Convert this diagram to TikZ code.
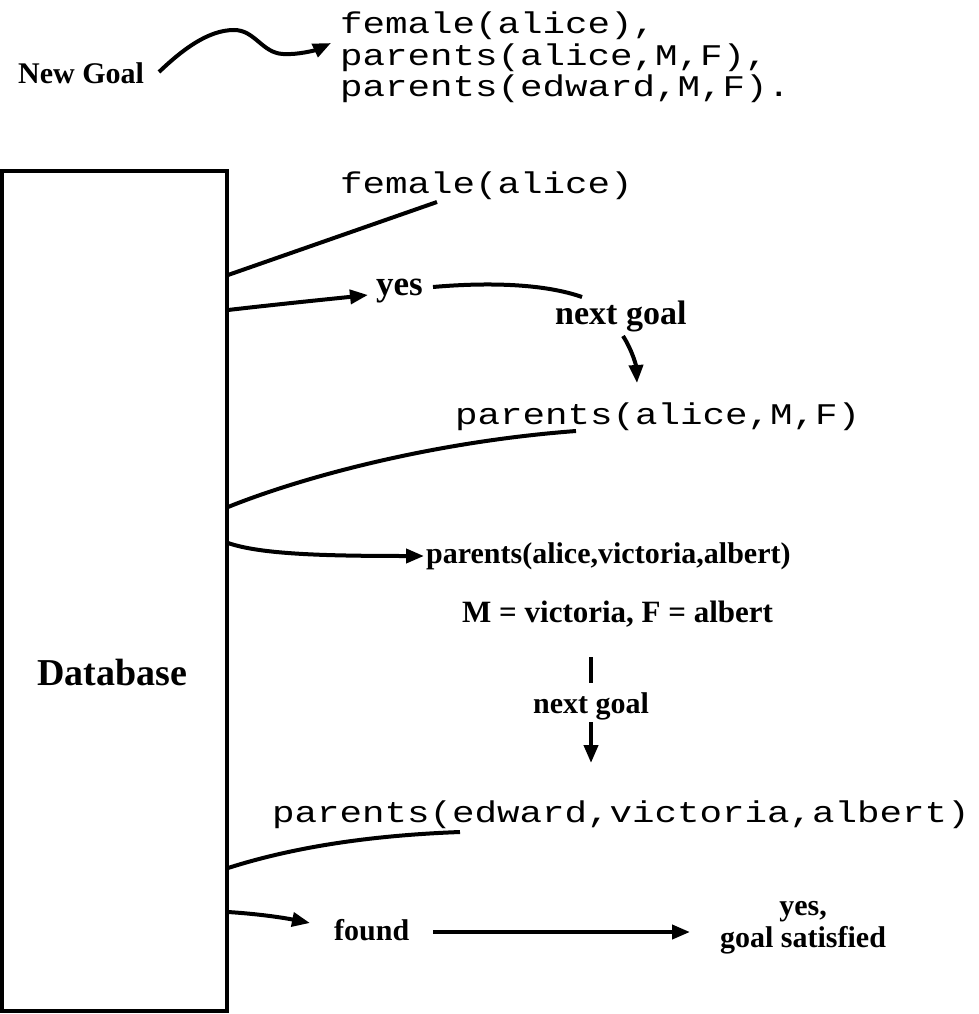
\documentclass[tikz,border=0pt]{standalone}
\usepackage{fontspec}
\setmainfont{Liberation Serif}
\newfontfamily\codefont{Liberation Mono}
\newcommand{\codewide}[1]{\scalebox{1.25}[1]{#1}}
\usetikzlibrary{arrows.meta}
\begin{document}
\begin{tikzpicture}[x=1pt,y=-1pt,
  lbl/.style={font=\fontsize{30}{30}\selectfont\bfseries, inner sep=0pt, anchor=base west},
  code/.style={font=\fontsize{30}{30}\selectfont\codefont, inner sep=0pt, anchor=base west, text height=20pt, text depth=6pt},
  conn/.style={line width=4pt, line cap=butt},
  arr/.style={conn, -{Triangle[length=18pt,width=14pt]}}]
\useasboundingbox (0,0) rectangle (979,1014);
% database box
\node[draw, line width=4pt, inner sep=0pt, outer sep=0pt, minimum width=225pt, minimum height=840pt, anchor=north west] (db) at (2,171) {};
\node[font=\fontsize{38}{38}\selectfont\bfseries, inner sep=0pt, anchor=base] (dbl) at (112,685) {Database};
% new goal
\node[lbl] (ng) at (18,84) {New Goal};
\node[code] (g1) at (340,34) {\codewide{female(alice),}};
\node[code] (g2) at (340,65.5) {\codewide{parents(alice,M,F),}};
\node[code] (g3) at (340,97) {\codewide{parents(edward,M,F).}};
\coordinate (ngs) at (159,72);
\coordinate (ngt) at (331,43);
\draw[arr] (ngs) .. controls (182,50) and (208,30) .. (234,30) .. controls (255,30) and (262,53) .. (283,54) .. controls (298,55) and (316,50) .. (ngt);
% female(alice)
\node[code] (f) at (340,193) {\codewide{female(alice)}};
\coordinate (d1) at (228,275);
\coordinate (f1) at (437,202);
\draw[conn] (d1) -- (f1);
\coordinate (d2) at (228,310);
\node[lbl, font=\fontsize{35}{35}\selectfont\bfseries] (yes) at (376,295) {yes};
\coordinate (yt) at (368,295);
\draw[arr] (d2) .. controls (280,304) and (330,299) .. (yt);
\coordinate (y1) at (433,287);
\coordinate (y2) at (582,297);
\draw[conn] (y1) .. controls (490,282) and (545,284) .. (y2);
\node[lbl, font=\fontsize{34}{34}\selectfont\bfseries] (ng1) at (555,324) {next goal};
\coordinate (n1s) at (623,336);
\coordinate (n1t) at (637,383);
\draw[arr] (n1s) .. controls (632,350) and (636,365) .. (n1t);
% parents(alice,M,F)
\node[code] (p1) at (455,424) {\codewide{parents(alice,M,F)}};
\coordinate (d3) at (228,507);
\coordinate (p1e) at (576,431);
\draw[conn] (d3) .. controls (300,478) and (430,442) .. (p1e);
\coordinate (d4) at (228,543);
\coordinate (p2t) at (424,556);
\draw[arr] (d4) .. controls (260,554) and (320,556) .. (p2t);
\node[lbl] (p2) at (426,563) {parents(alice,victoria,albert)};
\node[lbl, font=\fontsize{31}{31}\selectfont\bfseries] (mf) at (462,622) {M = victoria, F = albert};
\coordinate (tk1) at (591,657);
\coordinate (tk2) at (591,683);
\draw[conn] (tk1) -- (tk2);
\node[lbl] (ng2) at (533,713) {next goal};
\coordinate (n2s) at (591,722);
\coordinate (n2t) at (591,763);
\draw[arr] (n2s) -- (n2t);
% parents(edward,...)
\node[code] (p3) at (272,822) {\codewide{parents(edward,victoria,albert)}};
\coordinate (d5) at (228,868);
\coordinate (p3e) at (460,832);
\draw[conn] (d5) .. controls (300,845) and (380,835) .. (p3e);
\coordinate (d6) at (228,912);
\coordinate (ft) at (310,923);
\draw[arr] (d6) .. controls (260,914) and (285,918) .. (ft);
\node[lbl] (found) at (334,940) {found};
\node[font=\fontsize{30}{30}\selectfont\bfseries, inner sep=0pt, align=center, anchor=north] (sat) at (803,901) {yes,\\[2pt]goal satisfied};
\coordinate (fa) at (433,932);
\coordinate (fb) at (690,932);
\draw[arr] (fa) -- (fb);
\end{tikzpicture}
\end{document}
